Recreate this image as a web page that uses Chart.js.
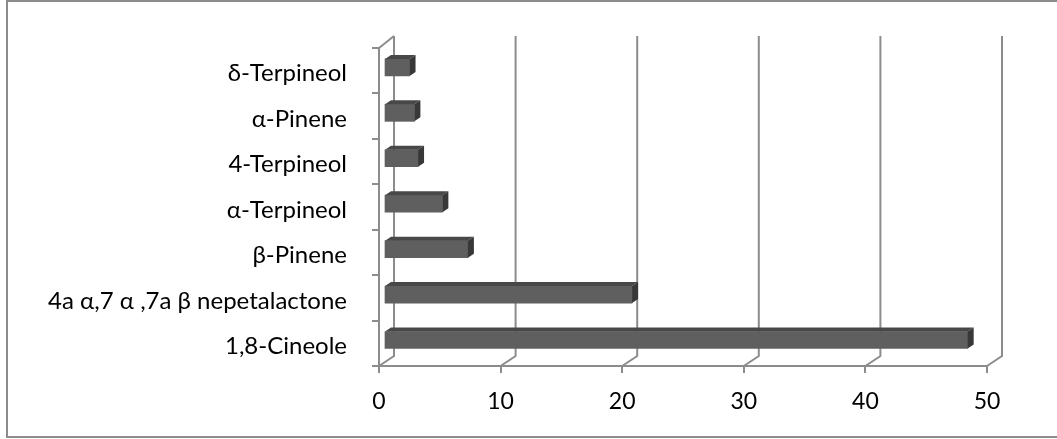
<!DOCTYPE html>
<html>
<head>
<meta charset="utf-8">
<script src="https://cdn.jsdelivr.net/npm/chart.js@4/dist/chart.umd.min.js"></script>
<style>
  html, body { margin:0; padding:0; background:#fff; }
  canvas { display:block; }
</style>
</head>
<body>
<canvas id="oilChart" width="1057" height="439"></canvas>
<script>
const compounds = ['δ-Terpineol','α-Pinene','4-Terpineol','α-Terpineol','β-Pinene','4a α,7 α ,7a β nepetalactone','1,8-Cineole'];
const percentages = [2.1, 2.5, 2.8, 4.8, 6.9, 20.4, 48.0];
const xTicks = [0, 10, 20, 30, 40, 50];

const lineColor = '#8c8c8c';
const depth = {x:15, y:-10};      // floor -> back wall offset
const barShift = {x:5, y:-3.3};   // bars sit a third of the way back
const barDepth = {x:6, y:-4};

// draws the frame, floor, back gridlines and the 3d faces of the bars
const walls = {
  id:'walls',
  beforeDraw(chart){
    const c = chart.ctx;
    c.save();
    c.fillStyle = '#fff';
    c.fillRect(0, 0, chart.width, chart.height);
    c.strokeStyle = lineColor;
    c.lineWidth = 2;
    c.strokeRect(7, 1, chart.width + 10, 436);
    c.restore();
  },
  beforeDatasetsDraw(chart){
    const c = chart.ctx, a = chart.chartArea, x = chart.scales.x;
    c.save();
    c.strokeStyle = lineColor;
    c.lineWidth = 2;
    c.beginPath();
    xTicks.forEach(v => {
      const px = x.getPixelForValue(v);
      c.moveTo(px, a.bottom);
      c.lineTo(px + depth.x, a.bottom + depth.y);
      c.lineTo(px + depth.x, a.top - 12);
    });
    c.moveTo(a.left, a.top);
    c.lineTo(a.left + depth.x, a.top - 12);
    c.stroke();
    c.restore();

    c.save();
    c.translate(barShift.x, barShift.y);
  },
  afterDatasetsDraw(chart){
    const c = chart.ctx;
    chart.getDatasetMeta(0).data.forEach(bar => {
      const p = bar.getProps(['x','y','base','height'], true);
      const top = p.y - p.height / 2, bot = p.y + p.height / 2;
      c.fillStyle = '#484848';
      c.beginPath();
      c.moveTo(p.base, top);
      c.lineTo(p.x, top);
      c.lineTo(p.x + barDepth.x, top + barDepth.y);
      c.lineTo(p.base + barDepth.x, top + barDepth.y);
      c.closePath();
      c.fill();
      c.fillStyle = '#383838';
      c.beginPath();
      c.moveTo(p.x, top);
      c.lineTo(p.x + barDepth.x, top + barDepth.y);
      c.lineTo(p.x + barDepth.x, bot + barDepth.y);
      c.lineTo(p.x, bot);
      c.closePath();
      c.fill();
    });
    c.restore();
  }
};

Chart.defaults.font.family = 'Lato';
Chart.defaults.font.size = 23;
Chart.defaults.color = '#000';

new Chart(document.getElementById('oilChart'), {
  type:'bar',
  data:{
    labels:compounds,
    datasets:[{
      data:percentages,
      backgroundColor:'#5f5f5f',
      borderWidth:0,
      barThickness:17,
      clip:false
    }]
  },
  options:{
    indexAxis:'y',
    responsive:false,
    animation:false,
    events:[],
    layout:{ padding:{ left:0, top:48, right:70, bottom:0 } },
    plugins:{
      legend:{ display:false },
      tooltip:{ enabled:false }
    },
    scales:{
      x:{
        min:0,
        max:50,
        afterFit(scale){ scale.height = 73; },
        afterBuildTicks(scale){ scale.ticks = xTicks.map(v => ({value:v})); },
        ticks:{ padding:15 },
        grid:{ drawOnChartArea:false, tickLength:7, color:lineColor, lineWidth:2 },
        border:{ color:lineColor, width:2 }
      },
      y:{
        afterFit(scale){ scale.width = 379; },
        ticks:{ padding:25, labelOffset:3, font:{ size:24 } },
        grid:{ drawOnChartArea:false, tickLength:7, color:lineColor, lineWidth:2 },
        border:{ color:lineColor, width:2 }
      }
    }
  },
  plugins:[walls]
});
</script>
</body>
</html>
